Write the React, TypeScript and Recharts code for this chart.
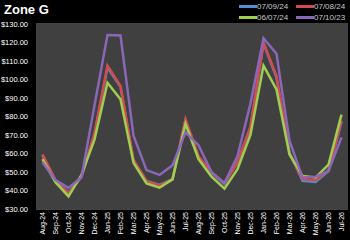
import { LineChart, Line, XAxis, YAxis, CartesianGrid } from 'recharts'

const months = [
  'Aug-24', 'Sep-24', 'Oct-24', 'Nov-24', 'Dec-24', 'Jan-25', 'Feb-25', 'Mar-25',
  'Apr-25', 'May-25', 'Jun-25', 'Jul-25', 'Aug-25', 'Sep-25', 'Oct-25', 'Nov-25',
  'Dec-25', 'Jan-26', 'Feb-26', 'Mar-26', 'Apr-26', 'May-26', 'Jun-26', 'Jul-26',
]

const s070924 = [59, 45.3, 38.8, 47.3, 70.5, 106.5, 96, 56.2, 45.2, 43, 46.2, 78, 58.2, 49.5, 43.5, 55.5, 74, 119.5, 101, 60.5, 45.2, 44.6, 50.5, 77]
const s070824 = [59.5, 45.5, 38.5, 47.5, 71, 107.5, 96.5, 56.5, 45, 42.8, 46, 78.6, 58.6, 49.6, 43.9, 55, 74.6, 120, 101.8, 59.8, 46.2, 45.6, 51, 77.7]
const s060724 = [57, 44.5, 36.8, 48.5, 67.5, 98.2, 89.3, 55, 43.8, 41.5, 46, 76, 57, 47.5, 41, 51.5, 70.2, 107.5, 94.6, 59.5, 47.9, 47, 54, 81]
const s071023 = [55.3, 45.6, 41.4, 47.2, 86, 124, 123.8, 69.6, 51, 48.4, 53.6, 71.4, 64.5, 50, 44, 58.6, 87.1, 122.3, 113.9, 66.9, 47, 47.5, 50.5, 68.7]

const yTicks = [30, 40, 50, 60, 70, 80, 90, 100, 110, 120, 130]

const series = [
  { key: 'a', name: '07/09/24', color: '#4f8fd6' },
  { key: 'b', name: '07/08/24', color: '#d44b4f' },
  { key: 'c', name: '06/07/24', color: '#9ecf4f' },
  { key: 'd', name: '07/10/23', color: '#8a67b8' },
]

const data = months.map((m, i) => ({
  month: m,
  a: s070924[i],
  b: s070824[i],
  c: s060724[i],
  d: s071023[i],
}))

const font = '"Liberation Sans", Arial, sans-serif'

// rotated month label, top of the text sits just under the plot area
function MonthTick({ x, payload }: any) {
  const y = 212
  return (
    <text
      x={x}
      y={y}
      transform={`rotate(-90 ${x} ${y})`}
      dy={2.5}
      textAnchor="end"
      fill="#ffffff"
      fontSize={7}
      fontFamily={font}
    >
      {payload.value}
    </text>
  )
}

function LegendBox() {
  const item = (s: { name: string; color: string }) => (
    <div key={s.name} style={{ display: 'flex', alignItems: 'center', width: 57 }}>
      <div style={{ width: 18, height: 2.5, background: s.color }} />
      <span style={{ fontSize: 8, color: '#c8c8c8', fontFamily: font, lineHeight: '11px' }}>{s.name}</span>
    </div>
  )
  return (
    <div style={{ position: 'absolute', left: 239, top: 1, width: 114 }}>
      <div style={{ display: 'flex', height: 11 }}>{series.slice(0, 2).map(item)}</div>
      <div style={{ display: 'flex', height: 11 }}>{series.slice(2, 4).map(item)}</div>
    </div>
  )
}

export default function App() {
  return (
    <div style={{ position: 'fixed', left: 0, top: 0, width: 350, height: 240, background: '#000' }}>
      <div
        style={{
          position: 'absolute', left: 4, top: 2, color: '#fff', fontWeight: 'bold',
          fontSize: 13, fontFamily: font,
        }}
      >
        Zone G
      </div>
      <LegendBox />
      <LineChart
        width={350}
        height={240}
        data={data}
        margin={{ top: 24, right: 2, bottom: 0, left: 0 }}
        style={{ position: 'absolute', left: 0, top: 0 }}
      >
        <rect x={36} y={24} width={312} height={185} fill="#404040" />
        <CartesianGrid vertical={false} stroke="#858585" strokeWidth={1} fill="#404040" />
        <XAxis
          dataKey="month"
          interval={0}
          height={31}
          padding={{ left: 6.5, right: 6.5 }}
          tick={<MonthTick />}
          tickLine={false}
          axisLine={false}
        />
        <YAxis
          width={36}
          domain={[30, 130]}
          ticks={yTicks}
          interval={0}
          tickFormatter={(v: number) => `$${v.toFixed(2)}`}
          tick={{ fill: '#ffffff', fontSize: 7.5, fontFamily: font }}
          tickLine={false}
          axisLine={false}
        />
        {series.map(s => (
          <Line
            key={s.key}
            dataKey={s.key}
            name={s.name}
            stroke={s.color}
            strokeWidth={2.5}
            dot={false}
            type="linear"
            isAnimationActive={false}
          />
        ))}
      </LineChart>
    </div>
  )
}
